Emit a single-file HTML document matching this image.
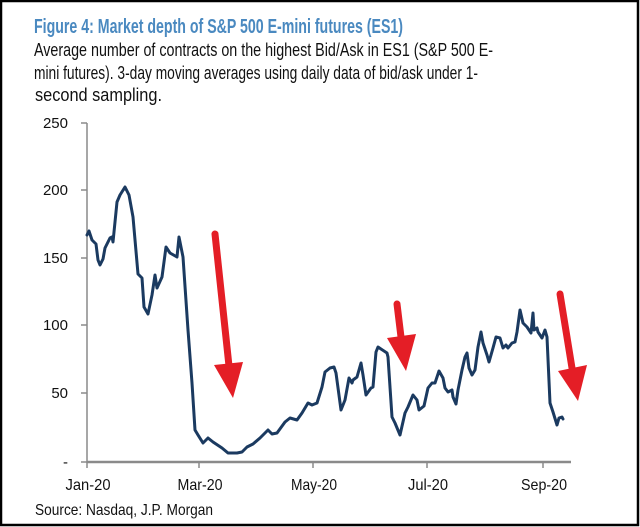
<!DOCTYPE html>
<html><head><meta charset="utf-8"><style>
html,body{margin:0;padding:0;background:#fff;}
svg{display:block;}
text{font-family:"Liberation Sans",Arial,sans-serif;}
</style></head><body>
<svg width="640" height="527" viewBox="0 0 640 527" xmlns="http://www.w3.org/2000/svg">
<rect x="0" y="0" width="640" height="527" fill="#fff"/>
<rect x="1" y="1" width="637" height="524" fill="none" stroke="#000" stroke-width="2.5"/>
<text x="34" y="33" font-size="20" font-weight="bold" fill="#4a89c0" textLength="369" lengthAdjust="spacingAndGlyphs">Figure 4: Market depth of S&amp;P 500 E-mini futures (ES1)</text>
<text x="34" y="56" font-size="18" fill="#111" textLength="459" lengthAdjust="spacingAndGlyphs">Average number of contracts on the highest Bid/Ask in ES1 (S&amp;P 500 E-</text>
<text x="34" y="79" font-size="18" fill="#111" textLength="444" lengthAdjust="spacingAndGlyphs">mini futures). 3-day moving averages using daily data of bid/ask under 1-</text>
<text x="35" y="101" font-size="18" fill="#111" textLength="127" lengthAdjust="spacingAndGlyphs">second sampling.</text>
<g font-size="15" fill="#111" text-anchor="end">
<text x="68" y="128">250</text>
<text x="68" y="195">200</text>
<text x="68" y="263">150</text>
<text x="68" y="330">100</text>
<text x="68" y="398">50</text>
<text x="68" y="467">-</text>
</g>
<g stroke="#8a8a8a" stroke-width="1.5">
<line x1="87" y1="123" x2="87" y2="463"/>
<line x1="81" y1="123" x2="87" y2="123"/>
<line x1="81" y1="190" x2="87" y2="190"/>
<line x1="81" y1="258" x2="87" y2="258"/>
<line x1="81" y1="325" x2="87" y2="325"/>
<line x1="81" y1="393" x2="87" y2="393"/>
<line x1="81" y1="462" x2="87" y2="462"/>
<line x1="87" y1="462" x2="571" y2="462" stroke-width="2.5"/>
<line x1="87" y1="462" x2="87" y2="468"/>
<line x1="199" y1="462" x2="199" y2="468"/>
<line x1="313" y1="462" x2="313" y2="468"/>
<line x1="427" y1="462" x2="427" y2="468"/>
<line x1="543" y1="462" x2="543" y2="468"/>
</g>
<g font-size="16" fill="#111" text-anchor="middle">
<text x="88" y="490" textLength="45" lengthAdjust="spacingAndGlyphs">Jan-20</text>
<text x="200" y="490" textLength="45" lengthAdjust="spacingAndGlyphs">Mar-20</text>
<text x="314" y="490" textLength="46" lengthAdjust="spacingAndGlyphs">May-20</text>
<text x="428" y="490" textLength="40" lengthAdjust="spacingAndGlyphs">Jul-20</text>
<text x="544" y="490" textLength="46" lengthAdjust="spacingAndGlyphs">Sep-20</text>
</g>
<text x="35" y="515" font-size="16" fill="#111" textLength="178" lengthAdjust="spacingAndGlyphs">Source: Nasdaq, J.P. Morgan</text>
<polyline fill="none" stroke="#1b3a60" stroke-width="3" stroke-linejoin="round" stroke-linecap="round" points="87,235 89,231 92,240 96,244 98,260 100,265 103,259 105,248 110,238 112,237 113,242 117,202 120,195 125,187 129,195 133,217 138,274 142,278 144,307 148,314 152,295 155,275 157,288 162,277 166,247 170,253 177,257 179,237 183,257 188,330 192,383 195,430 198,435 203,443 208,438 213,442 222,448 228,453 237,453 242,452 247,447 253,444 260,438 268,430 272,434 277,433 285,422 290,418 297,420 302,413 308,403 312,405 317,403 322,387 325,372 330,368 334,367 336,373 341,410 345,400 349,378 352,383 353,380 357,377 361,363 363,375 366,395 371,388 373,387 376,352 378,347 387,353 388,357 392,417 395,423 400,435 405,413 408,407 413,395 417,400 419,410 424,406 428,388 432,383 435,383 439,371 443,378 445,388 448,392 452,390 453,397 456,404 458,390 462,370 465,357 467,353 469,368 472,375 475,370 478,347 481,332 483,343 487,355 489,362 493,348 496,337 500,338 503,348 506,345 508,348 512,343 515,342 517,332 520,310 523,323 527,327 531,333 533,313 534,330 537,328 538,332 542,338 545,330 547,337 550,403 553,412 557,425 559,418 562,417 563,419"/>
<g fill="#e41e26" stroke="#e41e26">
<line x1="215" y1="234" x2="229" y2="366" stroke-width="7" stroke-linecap="round"/>
<polygon points="214,365 243,362 233,398" stroke="none"/>
<line x1="397" y1="304" x2="401" y2="337" stroke-width="7" stroke-linecap="round"/>
<polygon points="387,338 416,334 406,371" stroke="none"/>
<line x1="560" y1="294" x2="572" y2="368" stroke-width="7" stroke-linecap="round"/>
<polygon points="558,371 587,365 578,401" stroke="none"/>
</g>
</svg>
</body></html>
